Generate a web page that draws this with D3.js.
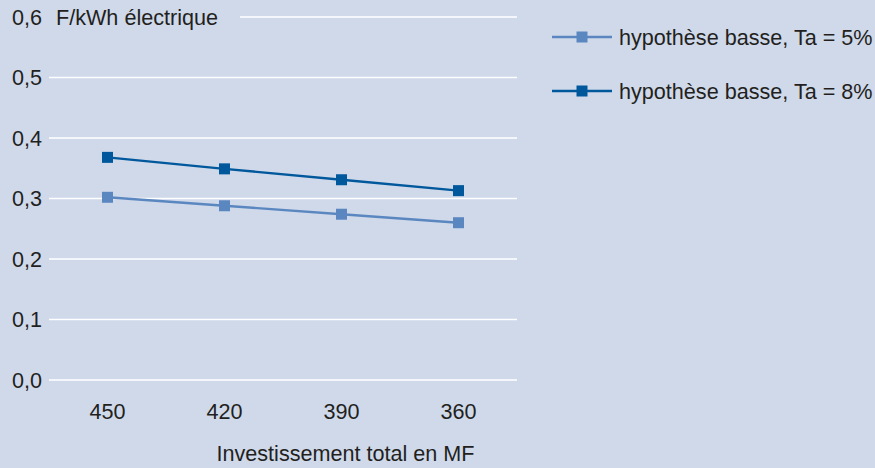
<!DOCTYPE html>
<html><head><meta charset="utf-8">
<script src="https://cdn.jsdelivr.net/npm/d3@7"></script>
<style>
html,body{margin:0;padding:0;background:#cfd9ea;}
svg{display:block;font-family:"Liberation Sans",Arial,sans-serif;}
</style></head>
<body><svg id="c" width="875" height="468"></svg>
<script>
const categories = ["450","420","390","360"];
const seriesNames = ["hypothèse basse, Ta = 5%","hypothèse basse, Ta = 8%"];
const valuesTa5 = [0.302,0.288,0.274,0.260];
const valuesTa8 = [0.368,0.349,0.331,0.313];
const yTicks = [0,0.1,0.2,0.3,0.4,0.5,0.6];
const colors = ["#5b87c0","#00589c"];

const FS = 21.6;
const svg = d3.select("#c");
svg.append("rect").attr("width",875).attr("height",468).attr("fill","#cfd9ea");
const x = d3.scaleBand().domain(categories).range([49,517]);
const y = d3.scaleLinear().domain([0,0.6]).range([380,17]);
const fmt = d => d3.format(".1f")(d).replace(".",",");

// gridlines
svg.append("g").selectAll("line").data(yTicks).join("line")
  .attr("x1",d=>d===0.6?240:49).attr("x2",517)
  .attr("y1",d=>y(d)).attr("y2",d=>y(d))
  .attr("stroke","#ffffff").attr("stroke-width",1.3);

// y labels
svg.append("g").selectAll("text").data(yTicks).join("text")
  .attr("x",12).attr("y",d=>y(d)).attr("dy","0.35em")
  .attr("font-size",FS).attr("fill","#231f20").text(fmt);
svg.append("text").attr("x",56).attr("y",y(0.6)).attr("dy","0.35em")
  .attr("font-size",FS).attr("fill","#231f20").text("F/kWh électrique");

// x labels
svg.append("g").selectAll("text").data(categories).join("text")
  .attr("x",d=>x(d)+x.bandwidth()/2).attr("y",411).attr("dy","0.35em")
  .attr("text-anchor","middle").attr("font-size",FS).attr("fill","#231f20").text(d=>d);
svg.append("text").attr("x",345.5).attr("y",453).attr("dy","0.35em")
  .attr("text-anchor","middle").attr("font-size",FS).attr("fill","#231f20").text("Investissement total en MF");

const series = [valuesTa5, valuesTa8];
const cx = (d,i)=>x(categories[i])+x.bandwidth()/2;
series.forEach((vals,si)=>{
  const line = d3.line().x((d,i)=>cx(d,i)).y(d=>y(d));
  svg.append("path").datum(vals).attr("d",line).attr("fill","none")
    .attr("stroke",colors[si]).attr("stroke-width",2.4);
  svg.append("g").selectAll("rect").data(vals).join("rect")
    .attr("x",(d,i)=>cx(d,i)-5.5).attr("y",d=>y(d)-5.5)
    .attr("width",11).attr("height",11).attr("fill",colors[si]);
});

// legend
const ly = [37,91];
seriesNames.forEach((n,i)=>{
  const g = svg.append("g");
  g.append("line").attr("x1",552).attr("x2",612).attr("y1",ly[i]).attr("y2",ly[i])
    .attr("stroke",colors[i]).attr("stroke-width",2.4);
  g.append("rect").attr("x",576.5).attr("y",ly[i]-5.5).attr("width",11).attr("height",11).attr("fill",colors[i]);
  g.append("text").attr("x",619).attr("y",ly[i]).attr("dy","0.35em")
    .attr("font-size",FS).attr("fill","#231f20").text(n);
});
</script></body></html>
